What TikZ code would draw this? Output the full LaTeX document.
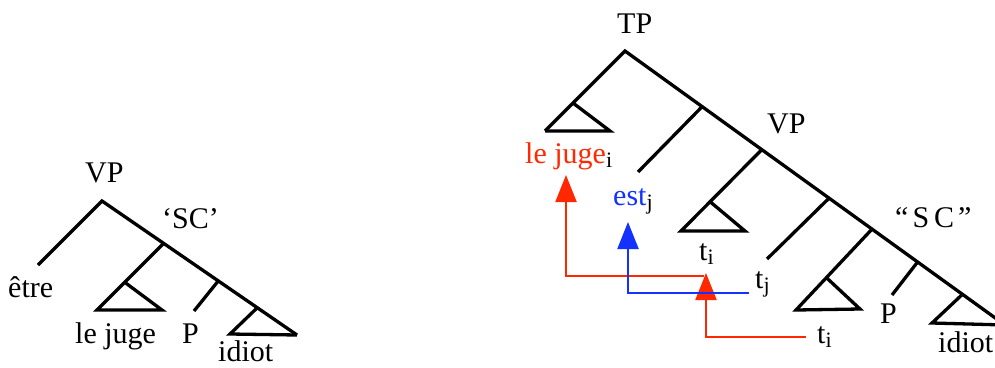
\documentclass[tikz,border=0pt]{standalone}
\usepackage{fontspec}
\setmainfont{Liberation Serif}
\usetikzlibrary{arrows.meta,calc}

\definecolor{movered}{RGB}{255,40,0}
\definecolor{moveblue}{RGB}{20,50,255}
\newcommand{\lsub}[1]{{\color{black}\fontsize{22}{22}\selectfont\raisebox{-4pt}{#1}}}

\begin{document}
\begin{tikzpicture}[x=1pt,y=-1pt,
  branch/.style={line width=3.3pt},
  lbl/.style={inner sep=0pt,anchor=base west,font=\fontsize{30}{36}\selectfont},
  redmove/.style={movered,line width=2.2pt,-{Triangle[length=27pt,width=21pt]}},
  bluemove/.style={moveblue,line width=2.2pt,-{Triangle[length=27pt,width=21pt]}}]

  \useasboundingbox (0,0) rectangle (995,367);
  \clip (0,0) rectangle (995,367);

  % left tree
  \coordinate (vpL) at (102,201);
  \coordinate (etreEnd) at (38,265);
  \coordinate (scEnd) at (297,335);
  \coordinate (l1) at (163,244);
  \coordinate (l1End) at (97,310);
  \coordinate (l1Apex) at ($(l1)!0.58!(l1End)$);
  \coordinate (l1Right) at (162,310);
  \coordinate (l2) at (219,280);
  \coordinate (l2End) at (194,311);
  \coordinate (l3) at (257,308);
  \coordinate (l3Left) at (230,334);

  \draw[branch] (etreEnd) -- (vpL) -- (scEnd);
  \draw[branch] (l1) -- (l1End) -- (l1Right) -- (l1Apex);
  \draw[branch] (l2) -- (l2End);
  \draw[branch] (l3) -- (l3Left) -- (scEnd);

  \node[lbl] (vpLabL) at (85,182) {VP};
  \node[lbl] (scL) at (162,228) {`SC'};
  \node[lbl] (etre) at (8,297) {être};
  \node[lbl] (jugeL) at (75,343) {le juge};
  \node[lbl] (pL) at (182,343) {P};
  \node[lbl] (idiotL) at (218,361) {idiot};

  % right tree
  \coordinate (tpR) at (625,51);
  \coordinate (tpLeftEnd) at (545,131);
  \coordinate (r0Apex) at ($(tpR)!0.65!(tpLeftEnd)$);
  \coordinate (r0Right) at (610,131);
  \coordinate (mainEnd) at (1005,325);
  \coordinate (r1) at ($(tpR)!0.203!(mainEnd)$);
  \coordinate (r2) at ($(tpR)!0.36!(mainEnd)$);
  \coordinate (r3) at ($(tpR)!0.537!(mainEnd)$);
  \coordinate (r4) at ($(tpR)!0.65!(mainEnd)$);
  \coordinate (r5) at ($(tpR)!0.77!(mainEnd)$);
  \coordinate (r6) at ($(tpR)!0.888!(mainEnd)$);
  \coordinate (r1End) at (638,172);
  \coordinate (r2End) at (681,231);
  \coordinate (r2Apex) at ($(r2)!0.64!(r2End)$);
  \coordinate (r2Right) at (745,231);
  \coordinate (r3End) at (767,259);
  \coordinate (r4End) at (796,310);
  \coordinate (r4Apex) at ($(r4)!0.6!(r4End)$);
  \coordinate (r4Right) at (860,309);
  \coordinate (r5End) at (892,295);
  \coordinate (r6Left) at (932,323);

  \draw[branch] (tpLeftEnd) -- (tpR) -- (mainEnd);
  \draw[branch] (tpLeftEnd) -- (r0Right) -- (r0Apex);
  \draw[branch] (r1) -- (r1End);
  \draw[branch] (r2) -- (r2End) -- (r2Right) -- (r2Apex);
  \draw[branch] (r3) -- (r3End);
  \draw[branch] (r4) -- (r4End) -- (r4Right) -- (r4Apex);
  \draw[branch] (r5) -- (r5End);
  \draw[branch] (r6) -- (r6Left) -- (mainEnd);

  \node[lbl] (tp) at (617,33) {TP};
  \node[lbl,text=movered] (jugeR) at (525,163) {le juge\lsub{i}};
  \node[lbl,text=moveblue] (est) at (613,205) {est\lsub{j}};
  \node[lbl] (vpLabR) at (767,133) {VP};
  \node[lbl] (tiA) at (699,260) {t\lsub{i}};
  \node[lbl] (tj) at (755,288) {t\lsub{j}};
  \node[lbl] (tiB) at (817,343) {t\lsub{i}};
  \node[lbl] (scR) at (895,227) {``\hspace{4pt}S\hspace{5pt}C\hspace{4pt}''};
  \node[lbl] (pR) at (880,323) {P};
  \node[lbl] (idiotR) at (938,352) {idiot};

  % movement arrows
  \coordinate (tiAfoot) at (706,273);
  \coordinate (jugefoot) at (566,175);
  \coordinate (estfoot) at (628,222);
  \draw[redmove] ($(tiB.base west)+(-11,-6)$) -| (tiAfoot);
  \draw[redmove] ($(tiAfoot)+(-2,3)$) -| (jugefoot);
  \draw[bluemove] ($(tj.base west)+(-6,5)$) -| (estfoot);

\end{tikzpicture}
\end{document}
